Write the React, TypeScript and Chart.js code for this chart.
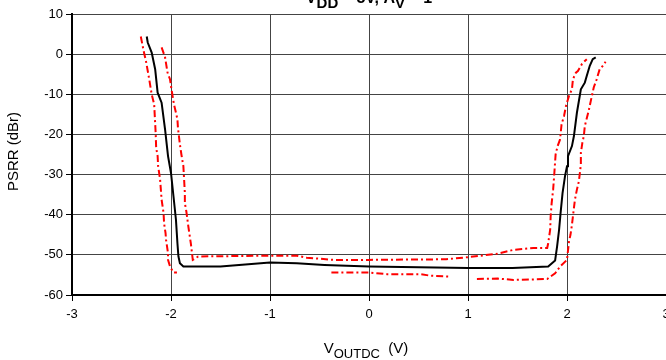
import React, { useEffect, useRef } from "react";
import { Chart, registerables } from "chart.js";

Chart.register(...registerables);

// ---- data (V_OUTDC in V, PSRR in dBr) ----
const blackX = [-2.245, -2.235, -2.195, -2.16, -2.135, -2.095, -2.06, -2.03, -2.0, -1.975, -1.95, -1.935, -1.925, -1.91, -1.875, -1.5, -1.0, -0.73, -0.45, 0.0, 1.0, 1.45, 1.81, 1.88, 1.9, 1.92, 1.935, 1.955, 1.98, 2.0, 2.01, 2.05, 2.07, 2.1, 2.14, 2.18, 2.2, 2.23, 2.26, 2.29];
const blackY = [4.4, 2.9, 0.4, -3.75, -9.6, -12.1, -18.75, -25.4, -29.6, -35.4, -41.25, -47.1, -50.4, -52.1, -52.9, -52.9, -51.9, -52.1, -52.5, -52.9, -53.3, -53.3, -52.9, -51.4, -47.9, -43.75, -39.6, -34.6, -30.4, -27.9, -25.4, -22.9, -20.4, -14.6, -8.75, -7.1, -5.4, -2.9, -1.25, -0.8];

const redUpperX = [-2.095, -2.06, -2.035, -2.01, -1.995, -1.97, -1.95, -1.935, -1.93, -1.91, -1.895, -1.875, -1.86, -1.86, -1.845, -1.825, -1.8, -1.78, -1.725, -1.0, -0.73, -0.63, -0.36, 0.0, 0.78, 0.99, 1.29, 1.46, 1.66, 1.8, 1.81, 1.83, 1.835, 1.845, 1.86, 1.87, 1.885, 1.905, 1.93, 1.945, 1.97, 1.99, 2.02, 2.05, 2.06, 2.09, 2.11, 2.15, 2.18, 2.2];
const redUpperY = [1.7, -0.8, -4.6, -6.25, -8.75, -12.5, -14.6, -16.25, -18.3, -22.5, -25, -27.9, -34.6, -37.1, -39.2, -42.9, -47.1, -51.25, -50.4, -50.2, -50.2, -50.7, -51.25, -51.25, -51.1, -50.6, -49.75, -48.75, -48.3, -48.3, -47.1, -43.75, -40.4, -37.1, -33.75, -30.4, -25, -22.9, -21.25, -17.5, -15.4, -12.9, -10.4, -8.75, -6.25, -4.6, -4.2, -2.5, -1.7, -1.25];

const redLowerX = [-2.305, -2.28, -2.25, -2.22, -2.195, -2.17, -2.155, -2.15, -2.135, -2.13, -2.11, -2.095, -2.075, -2.07, -2.055, -2.05, -2.03, -2.03, -2.01, -1.975, -1.94, -1.2, -0.38, 0.0, 0.18, 0.52, 0.62, 0.8, 0.95, 1.09, 1.3, 1.46, 1.69, 1.8, 1.88, 1.93, 2.0, 2.02, 2.035, 2.05, 2.06, 2.08, 2.1, 2.12, 2.14, 2.14, 2.155, 2.17, 2.18, 2.21, 2.22, 2.24, 2.27, 2.3, 2.33, 2.35, 2.39];
const redLowerY = [4.4, 1.25, -2.1, -6.25, -10, -12.5, -19.6, -23.3, -25.4, -27.9, -31.25, -36.25, -39.6, -42.1, -44.6, -46.25, -49.6, -51.25, -52.9, -54.4, -54.4, null, -54.4, -54.4, -54.8, -54.8, -55.2, -55.4, null, -56, -55.9, -56.25, -56.1, -56, -54.6, -52.9, -51.25, -46.7, -45, -42.5, -40.4, -36.25, -33.75, -31.7, -27.5, -24.6, -22.1, -20.4, -17.9, -15, -14, -11.7, -8.3, -6.25, -3.75, -3.3, -1.9];

const xTickMin = -3;
const xTickMax = 3;
const yTickMin = -60;
const yTickMax = 10;

const FONT = "'Liberation Sans', Arial, Helvetica, sans-serif";
const OFF = 20; // canvas extends above the visible window

const toPts = (xs: number[], ys: (number | null)[]) => xs.map((x, i) => ({ x, y: ys[i] }));

type Part = { t: string; sub?: boolean };

function drawRich(ctx: CanvasRenderingContext2D, parts: Part[], cx: number, base: number, mainFont: string, subFont: string, subDrop: number) {
  let total = 0;
  const widths = parts.map((p) => {
    ctx.font = p.sub ? subFont : mainFont;
    const w = ctx.measureText(p.t).width;
    total += w;
    return w;
  });
  let x = cx - total / 2;
  ctx.textAlign = "left";
  ctx.textBaseline = "alphabetic";
  parts.forEach((p, i) => {
    ctx.font = p.sub ? subFont : mainFont;
    ctx.fillText(p.t, x, p.sub ? base + subDrop : base);
    x += widths[i];
  });
}

const textPlugin = {
  id: "richText",
  afterDraw(chart: any) {
    const ctx: CanvasRenderingContext2D = chart.ctx;
    const { left, right, top, bottom } = chart.chartArea;
    ctx.save();
    ctx.fillStyle = "#000";
    // title (mostly cut off at top)
    drawRich(
      ctx,
      [{ t: "V" }, { t: "DD", sub: true }, { t: " = 5V, A" }, { t: "V", sub: true }, { t: " = 1" }],
      (left + right) / 2,
      OFF + 3,
      `bold 16px ${FONT}`,
      `bold 15px ${FONT}`,
      5
    );
    // x axis title
    drawRich(
      ctx,
      [{ t: "V" }, { t: "OUTDC", sub: true }, { t: "  (V)" }],
      (left + right) / 2 - 3,
      OFF + 353,
      `15px ${FONT}`,
      `13px ${FONT}`,
      5
    );
    // y axis title
    ctx.translate(14, (top + bottom) / 2 - 3);
    ctx.rotate(-Math.PI / 2);
    ctx.font = `15px ${FONT}`;
    ctx.textAlign = "center";
    ctx.textBaseline = "middle";
    ctx.fillText("PSRR (dBr)", 0, 0);
    ctx.restore();
  },
};

export default function App() {
  const ref = useRef<HTMLCanvasElement>(null);
  useEffect(() => {
    document.body.style.margin = "0";
    const canvas = ref.current!;
    const chart = new Chart(canvas, {
      type: "line",
      data: {
        datasets: [
          {
            label: "black",
            data: toPts(blackX, blackY),
            borderColor: "#000",
            borderWidth: 2,
            pointRadius: 0,
            tension: 0,
            fill: false,
            order: 0,
          },
          {
            label: "redUpper",
            data: toPts(redUpperX, redUpperY),
            borderColor: "#ff0000",
            borderWidth: 2,
            borderDash: [7, 3, 2, 3],
            pointRadius: 0,
            tension: 0,
            fill: false,
            order: 1,
          },
          {
            label: "redLower",
            data: toPts(redLowerX, redLowerY),
            borderColor: "#ff0000",
            borderWidth: 2,
            borderDash: [7, 3, 2, 3],
            pointRadius: 0,
            tension: 0,
            fill: false,
            spanGaps: false,
            order: 2,
          },
        ],
      },
      options: {
        animation: false,
        responsive: false,
        devicePixelRatio: 1,
        layout: { padding: { top: 34, right: 34, left: 0, bottom: 0 } },
        plugins: {
          legend: { display: false },
          tooltip: { enabled: false },
          title: { display: false },
        },
        scales: {
          x: {
            type: "linear",
            min: xTickMin,
            max: xTickMax,
            afterFit: (s: any) => {
              s.height = 65;
            },
            ticks: {
              stepSize: 1,
              color: "#000",
              font: { family: FONT, size: 13 },
              padding: 6,
              maxRotation: 0,
            },
            grid: { color: "#444", lineWidth: 1, tickLength: 6, tickColor: "#000" },
            border: { display: true, color: "#000", width: 2 },
          },
          y: {
            type: "linear",
            min: yTickMin,
            max: yTickMax,
            afterFit: (s: any) => {
              s.width = 72;
            },
            ticks: {
              stepSize: 10,
              color: "#000",
              font: { family: FONT, size: 13 },
              padding: 3,
            },
            grid: { color: "#444", lineWidth: 1, tickLength: 6, tickColor: "#000" },
            border: { display: true, color: "#000", width: 2 },
          },
        },
      },
      plugins: [textPlugin],
    });
    return () => chart.destroy();
  }, []);
  return (
    <div style={{ position: "relative", width: 666, height: 360, overflow: "hidden" }}>
      <canvas ref={ref} width={700} height={380} style={{ position: "absolute", left: 0, top: -OFF }} />
    </div>
  );
}
